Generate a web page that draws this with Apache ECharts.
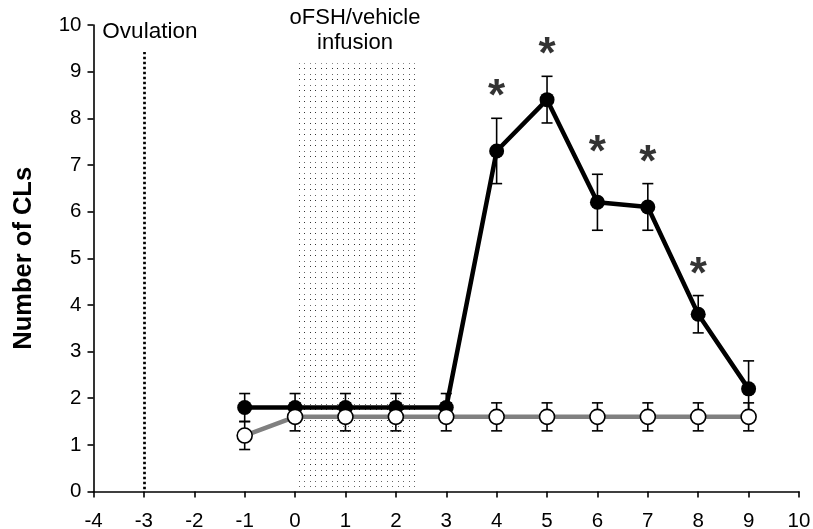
<!DOCTYPE html>
<html>
<head>
<meta charset="utf-8">
<script src="https://cdn.jsdelivr.net/npm/echarts@6/dist/echarts.min.js"></script>
<style>
  html, body { margin: 0; padding: 0; background: #fff; }
  #chart { width: 813px; height: 529px; }
</style>
</head>
<body>
<div id="chart"></div>
<script>
// Days relative to infusion start
const days = [-1, 0, 1, 2, 3, 4, 5, 6, 7, 8, 9];
// oFSH-treated group: mean number of corpora lutea and SEM
const fshMean = [1.8, 1.8, 1.8, 1.8, 1.8, 7.3, 8.4, 6.2, 6.1, 3.8, 2.2];
const fshErr  = [0.3, 0.3, 0.3, 0.3, 0.3, 0.7, 0.5, 0.6, 0.5, 0.4, 0.6];
// Vehicle group
const vehMean = [1.2, 1.6, 1.6, 1.6, 1.6, 1.6, 1.6, 1.6, 1.6, 1.6, 1.6];
const vehErr  = [0.3, 0.3, 0.3, 0.3, 0.3, 0.3, 0.3, 0.3, 0.3, 0.3, 0.3];
// Days with a significant difference
const sigDays = [4, 5, 6, 7, 8];
// Event markers
const ovulationDay = -3;
const ovulationTop = 9.42;
const infusionStart = 0;
const infusionEnd = 2.38;
const infusionTop = 9.18;

const xTicks = { min: -4, max: 10, interval: 1 };
const yTicks = { min: 0, max: 10, interval: 1 };

const FONT = '"Liberation Sans", Arial, sans-serif';

// Fine dot screen used for the infusion window
function dotPattern() {
  const c = document.createElement('canvas');
  c.width = 11; c.height = 11;
  const g = c.getContext('2d');
  g.fillStyle = '#fff';
  g.fillRect(0, 0, 11, 11);
  g.fillStyle = '#333';
  g.fillRect(2, 2, 1, 1);
  g.fillRect(7, 2, 1, 1);
  g.fillStyle = '#666';
  g.fillRect(2, 8, 1, 1);
  g.fillRect(7, 8, 1, 1);
  return c;
}

function errData(mean, err) {
  return days.map((d, i) => [d, mean[i] - err[i], mean[i] + err[i]]);
}

function errorBars(name, mean, err) {
  return {
    name: name,
    type: 'custom',
    z: 1,
    silent: true,
    data: errData(mean, err),
    renderItem: function (params, api) {
      const x = api.value(0);
      const lo = api.coord([x, api.value(1)]);
      const hi = api.coord([x, api.value(2)]);
      const cap = 5.5;
      const style = { stroke: '#000', lineWidth: 1.6 };
      return {
        type: 'group',
        children: [
          { type: 'line', shape: { x1: hi[0], y1: hi[1], x2: lo[0], y2: lo[1] }, style: style },
          { type: 'line', shape: { x1: hi[0] - cap, y1: hi[1], x2: hi[0] + cap, y2: hi[1] }, style: style },
          { type: 'line', shape: { x1: lo[0] - cap, y1: lo[1], x2: lo[0] + cap, y2: lo[1] }, style: style }
        ]
      };
    }
  };
}

const chart = echarts.init(document.getElementById('chart'), null, { renderer: 'canvas' });

const sigPoints = sigDays.map(d => {
  const i = days.indexOf(d);
  return [d, fshMean[i] + fshErr[i]];
});

chart.setOption({
  animation: false,
  backgroundColor: '#fff',
  grid: { left: 93.5, right: 14, top: 25, bottom: 37.5, outerBoundsMode: 'none', containLabel: false },
  xAxis: {
    type: 'value',
    min: xTicks.min, max: xTicks.max, interval: xTicks.interval,
    axisLine: { onZero: false, lineStyle: { color: '#000', width: 1.6 } },
    axisTick: { show: true, length: 6, lineStyle: { color: '#000', width: 1.6 } },
    axisLabel: { color: '#000', fontSize: 20.5, fontFamily: FONT, margin: 19 },
    splitLine: { show: false }
  },
  yAxis: {
    type: 'value',
    min: yTicks.min, max: yTicks.max, interval: yTicks.interval,
    name: 'Number of CLs',
    nameLocation: 'middle',
    nameGap: 57,
    nameTextStyle: { color: '#000', fontSize: 25.5, fontWeight: 'bold', fontFamily: FONT },
    axisLine: { show: true, onZero: false, lineStyle: { color: '#000', width: 1.6 } },
    axisTick: { show: true, length: 6, lineStyle: { color: '#000', width: 1.6 } },
    axisLabel: { color: '#000', fontSize: 20.5, fontFamily: FONT, margin: 12 },
    splitLine: { show: false }
  },
  series: [
    {
      name: 'events',
      type: 'line',
      data: [],
      z: 0,
      markArea: {
        silent: true,
        itemStyle: { color: { image: dotPattern(), repeat: 'repeat' }, borderWidth: 0 },
        label: {
          show: true,
          position: 'top',
          distance: 8,
          formatter: 'oFSH/vehicle\ninfusion',
          color: '#000',
          fontSize: 22,
          lineHeight: 25,
          fontFamily: FONT
        },
        data: [[{ coord: [infusionStart, 0.1] }, { coord: [infusionEnd, infusionTop] }]]
      },
      markLine: {
        silent: true,
        symbol: ['none', 'none'],
        lineStyle: { color: '#000', width: 2.7, type: [2.5, 2.5] },
        label: {
          show: true,
          position: 'end',
          distance: 9,
          offset: [6, 0],
          formatter: 'Ovulation',
          color: '#000',
          fontSize: 22.5,
          fontFamily: FONT
        },
        data: [[{ coord: [ovulationDay, 0.05] }, { coord: [ovulationDay, ovulationTop] }]]
      }
    },
    errorBars('oFSH SEM', fshMean, fshErr),
    errorBars('vehicle SEM', vehMean, vehErr),
    {
      name: 'oFSH',
      type: 'line',
      z: 3,
      data: days.map((d, i) => [d, fshMean[i]]),
      symbol: 'circle',
      symbolSize: 15,
      showAllSymbol: true,
      lineStyle: { color: '#000', width: 4.5 },
      itemStyle: { color: '#000', borderColor: '#000', borderWidth: 0 }
    },
    {
      name: 'vehicle',
      type: 'line',
      z: 4,
      data: days.map((d, i) => [d, vehMean[i]]),
      symbol: 'circle',
      symbolSize: 15,
      showAllSymbol: true,
      lineStyle: { color: '#808080', width: 4.5 },
      itemStyle: { color: '#fff', borderColor: '#000', borderWidth: 1.6 }
    },
    {
      name: 'significance',
      type: 'scatter',
      z: 5,
      silent: true,
      symbolSize: 1,
      itemStyle: { color: 'rgba(0,0,0,0)' },
      data: sigPoints,
      label: {
        show: true,
        position: 'inside',
        offset: [0, -20],
        formatter: '*',
        color: '#000',
        fontSize: 44,
        fontWeight: 'bold',
        fontFamily: FONT
      }
    }
  ]
});
</script>
</body>
</html>
